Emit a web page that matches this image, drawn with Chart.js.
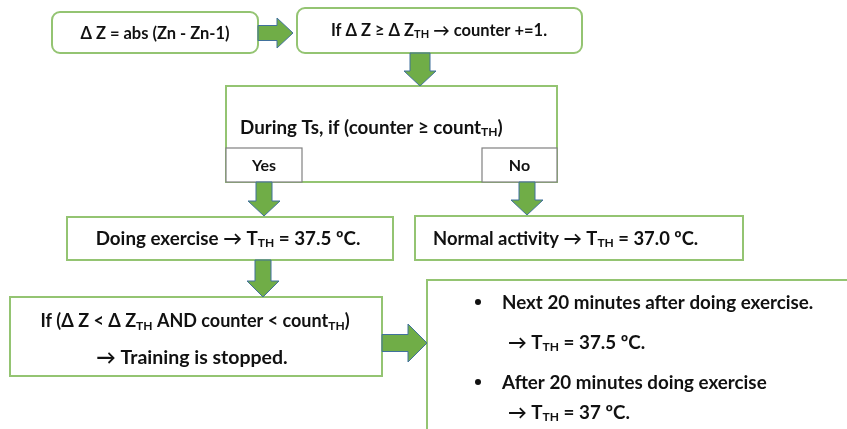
<!DOCTYPE html>
<html>
<head>
<meta charset="utf-8">
<script src="https://cdn.jsdelivr.net/npm/chart.js@4.4.0/dist/chart.umd.min.js"></script>
<style>
  html, body { margin: 0; padding: 0; background: #fff; overflow: hidden; }
  canvas { display: block; }
</style>
</head>
<body>
<canvas id="flow" width="847" height="429"></canvas>
<script>
// step texts, _{..} marks a subscript
const stepLabels = [
    "Δ Z = abs (Zn - Zn-1)",
    "If Δ Z ≥ Δ Z_{TH} → counter +=1.",
    "During Ts, if (counter ≥ count_{TH})",
    "Doing exercise → T_{TH} = 37.5 ºC.",
    "Normal activity → T_{TH} = 37.0 ºC.",
    "If (Δ Z < Δ Z_{TH} AND counter < count_{TH})",
    "→ Training is stopped."
];
const branchLabels = ["Yes", "No"];
const afterLabels = [
    "Next 20 minutes after doing exercise.",
    "→ T_{TH} = 37.5 ºC.",
    "After 20 minutes doing exercise",
    "→ T_{TH} = 37 ºC."
];
const bulletRows = [true, false, true, false];

const FONT = 'Lato, "Open Sans", sans-serif';
const BORDER = "#94c472";
const ARROW_FILL = "#70ad47";
const ARROW_EDGE = "#41719c";

// layout in canvas units (x 0..847, y 0..429 top-down)
const boxes = [
    { x0: 52, y0: 12, x1: 258, y1: 53, r: 8 },
    { x0: 297, y0: 8, x1: 582, y1: 53, r: 8 },
    { x0: 226, y0: 86, x1: 557, y1: 182, r: 0 },
    { x0: 67, y0: 217, x1: 393, y1: 260, r: 0 },
    { x0: 415, y0: 216, x1: 743, y1: 260, r: 0 },
    { x0: 10, y0: 297, x1: 382, y1: 376, r: 0 },
    { x0: 427, y0: 280, x1: 900, y1: 500, r: 0 }
];
const branchBoxes = [
    { x0: 226, y0: 148, x1: 302, y1: 182 },
    { x0: 482, y0: 148, x1: 557, y1: 182 }
];
// dir, from, to, cross position, shaft half, head half, head length
const arrows = [
    { dir: "right", from: 258, to: 293, at: 33, s: 7.5, h: 15, len: 16 },
    { dir: "down", from: 53, to: 86, at: 420, s: 10, h: 16, len: 15 },
    { dir: "down", from: 182, to: 216, at: 264, s: 8, h: 16, len: 15 },
    { dir: "down", from: 182, to: 215, at: 527, s: 8, h: 16, len: 15 },
    { dir: "down", from: 260, to: 297, at: 263, s: 8, h: 16, len: 16 },
    { dir: "right", from: 382, to: 427, at: 343, s: 8.5, h: 19, len: 19 }
];
const stepPos = [
    { x: 155, y: 33, align: "center", size: 16.5 },
    { x: 439, y: 30, align: "center", size: 16.5 },
    { x: 240, y: 127, align: "left", size: 18.8 },
    { x: 228, y: 238, align: "center", size: 18.8 },
    { x: 433, y: 238, align: "left", size: 18.4 },
    { x: 195, y: 321, align: "center", size: 18 },
    { x: 192, y: 357, align: "center", size: 19.5 }
];
const afterPos = [
    { x: 502, y: 302 },
    { x: 508, y: 342 },
    { x: 502, y: 382 },
    { x: 508, y: 412 }
];
const AFTER_SIZE = 18.8;

function parseRich(str) {
    const parts = [];
    const re = /_\{([^}]*)\}/g;
    let last = 0, m;
    while ((m = re.exec(str)) !== null) {
        if (m.index > last) parts.push({ t: str.slice(last, m.index), sub: false });
        parts.push({ t: m[1], sub: true });
        last = re.lastIndex;
    }
    if (last < str.length) parts.push({ t: str.slice(last), sub: false });
    return parts;
}

function drawRich(ctx, str, x, y, align, size) {
    const parts = parseRich(str);
    const mainFont = "bold " + size + "px " + FONT;
    const subFont = "bold " + Math.round(size * 0.66) + "px " + FONT;
    let total = 0;
    parts.forEach(p => {
        ctx.font = p.sub ? subFont : mainFont;
        p.w = ctx.measureText(p.t).width;
        total += p.w;
    });
    let cx = align === "center" ? x - total / 2 : x;
    ctx.textAlign = "left";
    ctx.textBaseline = "alphabetic";
    const base = y + size * 0.36;
    parts.forEach(p => {
        ctx.font = p.sub ? subFont : mainFont;
        ctx.fillText(p.t, cx, p.sub ? base + size * 0.12 : base);
        cx += p.w;
    });
}

function roundRect(ctx, x0, y0, x1, y1, r) {
    ctx.beginPath();
    ctx.moveTo(x0 + r, y0);
    ctx.lineTo(x1 - r, y0);
    ctx.arcTo(x1, y0, x1, y0 + r, r);
    ctx.lineTo(x1, y1 - r);
    ctx.arcTo(x1, y1, x1 - r, y1, r);
    ctx.lineTo(x0 + r, y1);
    ctx.arcTo(x0, y1, x0, y1 - r, r);
    ctx.lineTo(x0, y0 + r);
    ctx.arcTo(x0, y0, x0 + r, y0, r);
    ctx.closePath();
}

const flowPlugin = {
    id: "flow",
    afterDraw(chart) {
        const ctx = chart.ctx;
        const sx = chart.scales.x, sy = chart.scales.y;
        const X = v => sx.getPixelForValue(v);
        const Y = v => sy.getPixelForValue(v);
        ctx.save();

        // boxes
        boxes.forEach(b => {
            roundRect(ctx, X(b.x0), Y(b.y0), X(b.x1), Y(b.y1), b.r);
            ctx.fillStyle = "#fff";
            ctx.fill();
            ctx.lineWidth = 2;
            ctx.strokeStyle = BORDER;
            ctx.stroke();
        });
        branchBoxes.forEach(b => {
            ctx.fillStyle = "#fff";
            ctx.fillRect(X(b.x0), Y(b.y0), X(b.x1) - X(b.x0), Y(b.y1) - Y(b.y0));
            ctx.lineWidth = 1.2;
            ctx.strokeStyle = "#808080";
            ctx.strokeRect(X(b.x0), Y(b.y0), X(b.x1) - X(b.x0), Y(b.y1) - Y(b.y0));
        });

        // block arrows
        arrows.forEach(a => {
            ctx.beginPath();
            if (a.dir === "right") {
                const hx = a.to - a.len;
                ctx.moveTo(X(a.from), Y(a.at - a.s));
                ctx.lineTo(X(hx), Y(a.at - a.s));
                ctx.lineTo(X(hx), Y(a.at - a.h));
                ctx.lineTo(X(a.to), Y(a.at));
                ctx.lineTo(X(hx), Y(a.at + a.h));
                ctx.lineTo(X(hx), Y(a.at + a.s));
                ctx.lineTo(X(a.from), Y(a.at + a.s));
            } else {
                const hy = a.to - a.len;
                ctx.moveTo(X(a.at - a.s), Y(a.from));
                ctx.lineTo(X(a.at - a.s), Y(hy));
                ctx.lineTo(X(a.at - a.h), Y(hy));
                ctx.lineTo(X(a.at), Y(a.to));
                ctx.lineTo(X(a.at + a.h), Y(hy));
                ctx.lineTo(X(a.at + a.s), Y(hy));
                ctx.lineTo(X(a.at + a.s), Y(a.from));
            }
            ctx.closePath();
            ctx.fillStyle = ARROW_FILL;
            ctx.fill();
            ctx.lineWidth = 1;
            ctx.strokeStyle = ARROW_EDGE;
            ctx.stroke();
        });

        // texts
        ctx.fillStyle = "#111";
        stepLabels.forEach((s, i) => {
            const p = stepPos[i];
            drawRich(ctx, s, X(p.x), Y(p.y), p.align, p.size);
        });
        branchLabels.forEach((s, i) => {
            const b = branchBoxes[i];
            drawRich(ctx, s, X((b.x0 + b.x1) / 2), Y((b.y0 + b.y1) / 2), "center", 16);
        });
        afterLabels.forEach((s, i) => {
            const p = afterPos[i];
            if (bulletRows[i]) {
                ctx.beginPath();
                ctx.arc(X(478), Y(p.y), 3, 0, Math.PI * 2);
                ctx.fill();
            }
            drawRich(ctx, s, X(p.x), Y(p.y), "left", AFTER_SIZE);
        });
        ctx.restore();
    }
};

new Chart(document.getElementById("flow").getContext("2d"), {
    type: "scatter",
    data: { datasets: [{ data: [], pointRadius: 0 }] },
    options: {
        responsive: false,
        animation: false,
        layout: { padding: 0 },
        plugins: { legend: { display: false }, tooltip: { enabled: false } },
        scales: {
            x: { type: "linear", min: 0, max: 847, display: false },
            y: { type: "linear", min: 0, max: 429, reverse: true, display: false }
        }
    },
    plugins: [flowPlugin]
});
</script>
</body>
</html>
